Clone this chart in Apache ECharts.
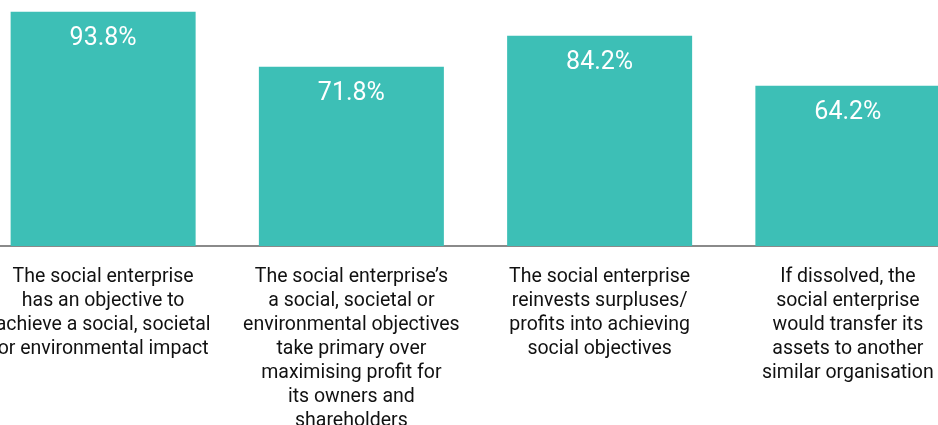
<!DOCTYPE html>
<html>
<head>
<meta charset="utf-8">
<script src="https://cdn.jsdelivr.net/npm/echarts@6/dist/echarts.min.js"></script>
<style>
  html, body { margin: 0; padding: 0; background: #ffffff; }
  #chart { width: 938px; height: 425px; }
</style>
</head>
<body>
<div id="chart"></div>
<script>
const categories = [
  "The social enterprise\nhas an objective to\nachieve a social, societal\nor environmental impact",
  "The social enterprise\u2019s\na social, societal or\nenvironmental objectives\ntake primary over\nmaximising profit for\nits owners and\nshareholders",
  "The social enterprise\nreinvests surpluses/\nprofits into achieving\nsocial objectives",
  "If dissolved, the\nsocial enterprise\nwould transfer its\nassets to another\nsimilar organisation"
];
const values = [93.8, 71.8, 84.2, 64.2];

const chart = echarts.init(document.getElementById('chart'), null, { renderer: 'canvas' });
chart.setOption({
  animation: false,
  backgroundColor: '#ffffff',
  grid: { left: -21, right: -34, top: 0, bottom: 179, containLabel: false, outerBoundsMode: 'none' },
  xAxis: {
    type: 'category',
    data: categories,
    axisLine: { show: true, lineStyle: { color: '#8a8a8a', width: 2 } },
    axisTick: { show: false },
    axisLabel: {
      interval: 0,
      margin: 19,
      color: '#111111',
      fontFamily: 'Roboto',
      fontSize: 19.5,
      lineHeight: 24,
      align: 'center',
      hideOverlap: false
    }
  },
  yAxis: {
    type: 'value',
    min: 0,
    max: 98.5,
    show: false,
    splitLine: { show: false }
  },
  series: [{
    type: 'bar',
    data: values,
    barWidth: 185,
    itemStyle: { color: '#3dbfb6' },
    label: {
      show: true,
      position: 'insideTop',
      distance: 15,
      color: '#ffffff',
      fontFamily: 'Roboto',
      fontSize: 25,
      formatter: p => p.value.toFixed(1) + '%'
    }
  }]
});
</script>
</body>
</html>
